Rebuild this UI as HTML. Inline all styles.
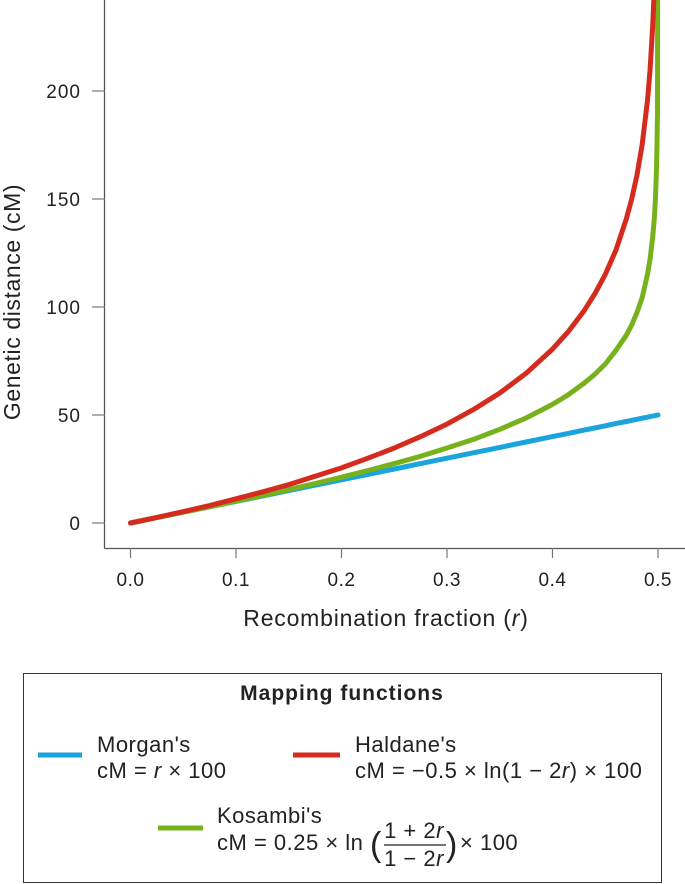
<!DOCTYPE html>
<html><head><meta charset="utf-8">
<style>
body{margin:0;background:#fff;}
svg{display:block;font-family:"Liberation Sans",sans-serif;}
.lg{font-size:22px;letter-spacing:0.5px;fill:#222;}
</style></head>
<body>
<svg id="chart" width="685" height="884" viewBox="0 0 685 884">
<defs><clipPath id="plotclip"><rect x="105" y="0" width="580" height="548"/></clipPath></defs>
<g id="axes"></g>
<g id="series" clip-path="url(#plotclip)"></g>
<text x="20" y="302" transform="rotate(-90 20 302)" text-anchor="middle" font-size="23" letter-spacing="0.6" fill="#222">Genetic distance (cM)</text>
<text x="386" y="626" text-anchor="middle" font-size="23" letter-spacing="0.8" fill="#222">Recombination fraction (<tspan font-style="italic">r</tspan>)</text>
<g>
<rect x="23.5" y="673.5" width="638" height="209" fill="none" stroke="#333" stroke-width="1"/>
<text x="342" y="700" text-anchor="middle" font-size="21" letter-spacing="1" font-weight="bold" fill="#222">Mapping functions</text>
<g>
<line x1="38" y1="755" x2="82" y2="755" stroke="#1aa3dc" stroke-width="5"/>
<text x="97" y="752" class="lg">Morgan's</text>
<text x="97" y="778" class="lg">cM = <tspan font-style="italic">r</tspan> × 100</text>
</g>
<g>
<line x1="293" y1="755" x2="340" y2="755" stroke="#d52b1e" stroke-width="5"/>
<text x="355" y="752" class="lg">Haldane's</text>
<text x="355" y="778" class="lg">cM = −0.5 × ln(1 − 2<tspan font-style="italic">r</tspan>) × 100</text>
</g>
<g>
<line x1="158" y1="828" x2="203" y2="828" stroke="#77b21c" stroke-width="5"/>
<text x="217" y="823" class="lg">Kosambi's</text>
<text x="217" y="850" class="lg">cM = 0.25 × ln</text>
<text x="370" y="856" font-size="34" fill="#222">(</text>
<text x="414" y="838" text-anchor="middle" class="lg">1 + 2<tspan font-style="italic">r</tspan></text>
<line x1="384" y1="845" x2="446" y2="845" stroke="#222" stroke-width="1.2"/>
<text x="414" y="866" text-anchor="middle" class="lg">1 − 2<tspan font-style="italic">r</tspan></text>
<text x="446" y="856" font-size="34" fill="#222">)</text>
<text x="460" y="850" class="lg">× 100</text>
</g>
</g>
</svg>
<script>
const xTicks=[0.0,0.1,0.2,0.3,0.4,0.5];
const xTickLabels=["0.0","0.1","0.2","0.3","0.4","0.5"];
const yTicks=[0,50,100,150,200];
const yTickLabels=["0","50","100","150","200"];
const rValues=[0,0.025,0.05,0.075,0.1,0.125,0.15,0.175,0.2,0.225,0.25,0.275,0.3,0.325,0.35,0.375,0.4,0.415,0.43,0.44,0.45,0.46,0.47,0.475,0.48,0.485,0.49,0.4925,0.495,0.4965,0.4975,0.4985,0.499,0.4995,0.5];
const morganValues=[0,2.5,5,7.5,10,12.5,15,17.5,20,22.5,25,27.5,30,32.5,35,37.5,40,41.5,43,44,45,46,47,47.5,48,48.5,49,49.25,49.5,49.65,49.75,49.85,49.9,49.95,50];
const haldaneValues=[0,2.6,5.3,8.1,11.2,14.4,17.8,21.6,25.5,30,34.7,40,45.8,52.5,60.2,69.3,80.5,88.6,98.3,106.0,115.1,126.2,140.8,149.8,160.9,175.3,195.6,210,230.3,247,265,290,310.7,345,400];
const kosambiValues=[0,2.5,5.0,7.5,10.1,12.7,15.5,18.3,21.2,24.3,27.5,30.9,34.7,38.7,43.4,48.6,54.9,59.4,64.7,68.8,73.6,79.8,86.9,91.6,97.3,104.4,115.1,122.3,132.5,140.8,149.8,162.4,172.7,190,400];
const svgNS="http://www.w3.org/2000/svg";
function xs(v){return 130.5+v*1055;}
function ys(v){return 523-v*2.16;}
const axes=document.getElementById('axes');
function mk(tag,attrs,parent){const e=document.createElementNS(svgNS,tag);for(const k in attrs)e.setAttribute(k,attrs[k]);parent.appendChild(e);return e;}
const ya=mk('line',{x1:104.5,y1:0,x2:104.5,y2:548.5,stroke:'#555','stroke-width':1.3},axes);


const xa=mk('line',{x1:104.5,y1:548.5,x2:685,y2:548.5,stroke:'#555','stroke-width':1.3},axes);


xTicks.forEach((t,i)=>{
  const x=xs(t);
  const l=mk('line',{x1:x,y1:548,x2:x,y2:558,stroke:'#777','stroke-width':1.2},axes);
  
  
  const tx=mk('text',{x:x,y:586,'text-anchor':'middle','font-size':19,'letter-spacing':0.5,fill:'#222'},axes);
  tx.textContent=xTickLabels[i];
  
  
});
yTicks.forEach((t,i)=>{
  const y=ys(t);
  const l=mk('line',{x1:92,y1:y,x2:105,y2:y,stroke:'#777','stroke-width':1.2},axes);
  
  
  const tx=mk('text',{x:81,y:y+7,'text-anchor':'end','font-size':19,'letter-spacing':1,fill:'#222'},axes);
  tx.textContent=yTickLabels[i];
  
  
});
const series=document.getElementById('series');
function drawLine(vals,color,name){
  const d=rValues.map((r,i)=>(i?'L':'M')+xs(r).toFixed(1)+','+ys(vals[i]).toFixed(1)).join(' ');
  const p=mk('path',{d:d,fill:'none',stroke:color,'stroke-width':5,'stroke-linejoin':'round','stroke-linecap':'round'},series);
  
  
}
drawLine(morganValues,'#1aa3dc','morgan-line');
drawLine(kosambiValues,'#77b21c','kosambi-line');
drawLine(haldaneValues,'#d52b1e','haldane-line');
</script>
</body></html>
